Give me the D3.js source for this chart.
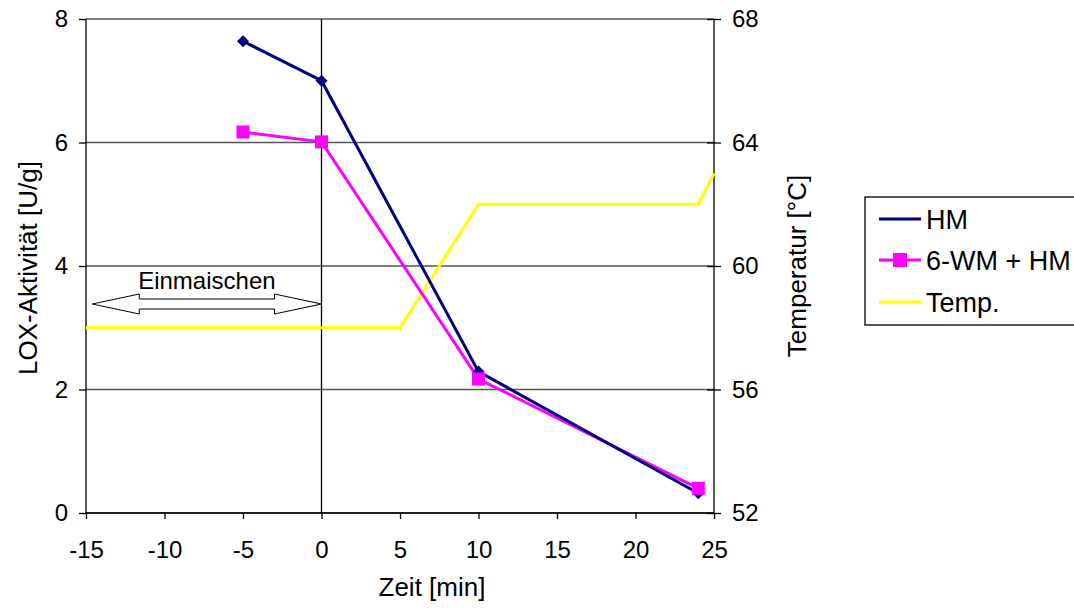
<!DOCTYPE html>
<html><head><meta charset="utf-8">
<script src="https://cdn.jsdelivr.net/npm/d3@7"></script>
<style>body{margin:0;background:#fff}svg{display:block;font-family:"Liberation Sans",Arial,sans-serif}</style>
</head><body><svg id="c" width="1074" height="614"></svg>
<script>
const xTicks = [-15,-10,-5,0,5,10,15,20,25];
const yLeftTicks = [0,2,4,6,8];
const yRightTicks = [52,56,60,64,68];
const hmX = [-5,0,10,24];
const hmY = [7.64,7.0,2.29,0.32];
const wmX = [-5,0,10,24];
const wmY = [6.17,6.01,2.17,0.40];
const tempX = [-15,5,10,24,25];
const tempY = [58,58,62,62,63];
const seriesNames = ["HM","6-WM + HM","Temp."];

const svg = d3.select("#c");
const L=86, R=714, T=19, B=513;
const x = d3.scaleLinear().domain([-15,25]).range([L,R]);
const yl = d3.scaleLinear().domain([0,8]).range([B,T]);
const yr = d3.scaleLinear().domain([52,68]).range([B,T]);

// gridlines
svg.append("g").selectAll("line").data(yLeftTicks).join("line")
  .attr("x1",L).attr("x2",R).attr("y1",d=>yl(d)).attr("y2",d=>yl(d))
  .attr("stroke","#555").attr("stroke-width",1.3);
// vertical line at 0
svg.append("line").attr("x1",x(0)).attr("x2",x(0)).attr("y1",T).attr("y2",B).attr("stroke","#000").attr("stroke-width",1.3);

// axes
const fs = "24px";
const fmt = d=>String(d);
const gx = svg.append("g").attr("transform",`translate(0,${B})`)
  .call(d3.axisBottom(x).tickValues(xTicks).tickFormat(fmt).tickSize(6).tickPadding(22));
const gl = svg.append("g").attr("transform",`translate(${L},0)`)
  .call(d3.axisLeft(yl).tickValues(yLeftTicks).tickFormat(fmt).tickSize(7).tickPadding(11));
const gr = svg.append("g").attr("transform",`translate(${R},0)`)
  .call(d3.axisRight(yr).tickValues(yRightTicks).tickFormat(fmt).tickSizeInner(7).tickSizeOuter(0).tickPadding(11));
gr.selectAll(".tick line").attr("x1",-7);
[gx,gl,gr].forEach(g=>{
  g.select(".domain").attr("stroke","#000").attr("stroke-width",1.3);
  g.selectAll(".tick line").attr("stroke","#000").attr("stroke-width",1.3);
  g.selectAll("text").attr("font-size",fs).attr("fill","#000").attr("font-family","Liberation Sans, Arial, sans-serif");
});
gx.select(".domain").attr("d",`M${L},0H${R}`);
gl.select(".domain").attr("d",`M0,${T}V${B}`);
gr.select(".domain").attr("d",`M0,${T}V${B}`);

// titles
svg.append("text").attr("x",432).attr("y",596).attr("text-anchor","middle").attr("font-size","26px").text("Zeit [min]");
svg.append("text").attr("transform",`translate(37,268) rotate(-90)`).attr("text-anchor","middle").attr("font-size","26px").text("LOX-Aktivität [U/g]");
svg.append("text").attr("transform",`translate(806,266) rotate(-90)`).attr("text-anchor","middle").attr("font-size","26px").text("Temperatur [°C]");

// arrow annotation
const a0 = x(-14.6), a1 = x(0), hw=47, h1=5, h2=10, cy=304;
svg.append("path").attr("d",`M${a0},${cy} L${a0+hw},${cy-h2} L${a0+hw},${cy-h1} L${a1-hw},${cy-h1} L${a1-hw},${cy-h2} L${a1},${cy} L${a1-hw},${cy+h2} L${a1-hw},${cy+h1} L${a0+hw},${cy+h1} L${a0+hw},${cy+h2} Z`)
  .attr("fill","#fff").attr("stroke","#000").attr("stroke-width",1);
svg.append("text").attr("x",(a0+a1)/2).attr("y",289).attr("text-anchor","middle").attr("font-size","24px").text("Einmaischen");

// lines
const lineGen = d3.line();
const tempPts = tempX.map((v,i)=>[x(v),yr(tempY[i])]);
svg.append("path").attr("d",lineGen(tempPts)).attr("fill","none").attr("stroke","#FFFF00").attr("stroke-width",3);
const wmPts = wmX.map((v,i)=>[x(v),yl(wmY[i])]);
svg.append("path").attr("d",lineGen(wmPts)).attr("fill","none").attr("stroke","#FF00FF").attr("stroke-width",3);
const hmPts = hmX.map((v,i)=>[x(v),yl(hmY[i])]);
svg.append("path").attr("d",lineGen(hmPts)).attr("fill","none").attr("stroke","#000080").attr("stroke-width",3);
svg.append("g").selectAll("path").data(hmPts).join("path")
  .attr("d",d=>`M${d[0]},${d[1]-6} L${d[0]+6},${d[1]} L${d[0]},${d[1]+6} L${d[0]-6},${d[1]} Z`).attr("fill","#000080");
svg.append("g").selectAll("rect").data(wmPts).join("rect")
  .attr("x",d=>d[0]-6.5).attr("y",d=>d[1]-6.5).attr("width",13).attr("height",13).attr("fill","#FF00FF");

// legend
const lg = svg.append("g");
lg.append("rect").attr("x",865).attr("y",197).attr("width",230).attr("height",128).attr("fill","#fff").attr("stroke","#000").attr("stroke-width",1.3);
const lcol = ["#000080","#FF00FF","#FFFF00"];
const ly = [219,260,302];
seriesNames.forEach((n,i)=>{
  const yy = ly[i];
  lg.append("line").attr("x1",879).attr("x2",921).attr("y1",yy).attr("y2",yy).attr("stroke",lcol[i]).attr("stroke-width",3);
  if(i===1) lg.append("rect").attr("x",893).attr("y",yy-7).attr("width",14).attr("height",14).attr("fill","#FF00FF");
  lg.append("text").attr("x",926).attr("y",yy+10).attr("font-size","27px").text(n);
});
</script></body></html>
